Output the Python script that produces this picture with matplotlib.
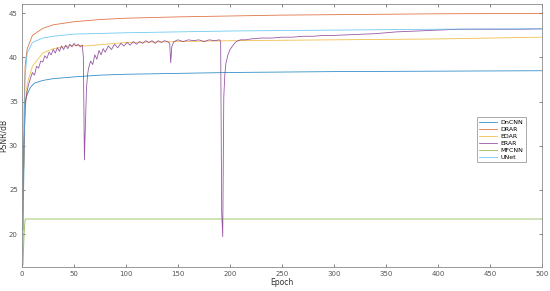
import numpy as np
import matplotlib
matplotlib.use("Agg")
import matplotlib.pyplot as plt

# epochs / PSNR values
dncnn_ep = [1, 2, 3, 5, 8, 12, 20, 30, 50, 75, 100, 150, 200, 300, 400, 500]
dncnn_val = [20.5, 30, 35, 35.8, 36.6, 37.1, 37.4, 37.6, 37.8, 38.0, 38.1, 38.2, 38.3, 38.4, 38.45, 38.5]

drar_ep = [1, 2, 3, 5, 10, 20, 30, 50, 75, 100, 150, 200, 250, 300, 350, 400, 450, 500]
drar_val = [22.5, 34, 39, 41, 42.5, 43.3, 43.7, 44.05, 44.3, 44.45, 44.6, 44.7, 44.8, 44.85, 44.9, 44.95, 44.97, 45.0]

edar_ep = [1, 2, 3, 5, 10, 20, 30, 40, 50, 60, 80, 100, 150, 200, 250, 300, 400, 500]
edar_val = [26, 28, 34, 37, 39, 40.5, 41.0, 41.2, 41.4, 41.3, 41.5, 41.7, 41.8, 41.9, 41.95, 42.0, 42.1, 42.3]

erar_ep = [1, 2, 3, 4, 5, 6, 8, 10, 12, 14, 16, 18, 20, 22, 24, 26, 28, 30,
           32, 34, 36, 38, 40, 42, 44, 46, 48, 50, 52, 54, 56, 58, 59, 60,
           61, 62, 63, 64, 66, 68, 70, 72, 74, 76, 78, 80, 83, 86, 89, 92,
           95, 98, 101, 104, 107, 110, 113, 116, 119, 122, 125, 128, 131, 134, 137, 140,
           142, 143, 144, 146, 150, 155, 160, 165, 170, 175, 180, 185, 190, 191,
           192, 193, 194, 195, 196, 198, 200, 203, 206, 210, 215, 220, 230, 240,
           250, 260, 270, 280, 290, 300, 320, 340, 360, 380, 400, 420, 440, 460,
           480, 500]
erar_val = [24, 30, 34.5, 35.5, 36.2, 36.8, 37.6, 38.3, 38.0, 39.0, 38.8, 39.6, 39.5, 40.2, 39.9, 40.6, 40.3, 40.9,
            40.5, 41.1, 40.7, 41.3, 40.9, 41.4, 41.0, 41.5, 41.2, 41.6, 41.3, 41.5, 41.2, 41.4, 40.0, 28.4,
            32.5, 36.5, 38.0, 38.8, 39.6, 39.2, 40.3, 39.8, 40.8, 40.3, 41.0, 40.6, 41.3, 40.9, 41.5, 41.1,
            41.6, 41.3, 41.7, 41.4, 41.8, 41.5, 41.8, 41.6, 41.9, 41.7, 41.9, 41.6, 41.9, 41.7, 41.9, 41.8,
            41.6, 39.4, 41.2, 41.8, 42.0, 41.8, 42.0, 41.9, 42.0, 41.8, 42.0, 41.9, 42.0, 41.8,
            22.4, 19.7, 35.5, 38.0, 39.3, 40.3, 40.9, 41.4, 41.8, 42.0, 42.0, 42.1, 42.2, 42.2,
            42.3, 42.3, 42.4, 42.4, 42.5, 42.5, 42.6, 42.7, 42.9, 43.0, 43.1, 43.2, 43.2, 43.2,
            43.2, 43.25]

mfcnn_ep = [1, 2, 3, 500]
mfcnn_val = [16.5, 20, 21.7, 21.7]

unet_ep = [1, 2, 3, 5, 10, 20, 30, 50, 100, 150, 200, 300, 400, 500]
unet_val = [18, 30, 38, 40.5, 41.7, 42.2, 42.4, 42.65, 42.8, 42.9, 43.0, 43.1, 43.2, 43.25]

names = ["DnCNN", "DRAR", "EDAR", "ERAR", "MFCNN", "UNet"]
colors = ["#0072BD", "#D95319", "#EDB120", "#7E2F8E", "#77AC30", "#4DBEEE"]
series = [(dncnn_ep, dncnn_val), (drar_ep, drar_val), (edar_ep, edar_val),
          (erar_ep, erar_val), (mfcnn_ep, mfcnn_val), (unet_ep, unet_val)]

fig = plt.figure(figsize=(5.5, 2.91), dpi=100)
ax = fig.add_axes([0.04, 0.0835, 0.9455, 0.9025])

for (ep, val), name, c in zip(series, names, colors):
    ax.plot(ep, val, color=c, lw=0.6, alpha=0.8, label=name)

ax.set_xlim(0, 500)
ax.set_ylim(16.3, 46.05)
ax.set_xticks(np.arange(0, 501, 50))
ax.set_yticks(np.arange(20, 46, 5))
ax.tick_params(direction="in", length=2.5, width=0.5, labelsize=5,
               colors="#555555", top=True, right=True, pad=3)
for s in ax.spines.values():
    s.set_linewidth(0.6)
    s.set_color("#888888")
ax.set_xlabel("Epoch", fontsize=5.5, color="#333333", labelpad=1)
ax.set_ylabel("PSNR/dB", fontsize=5.5, color="#333333")
ax.yaxis.set_label_coords(-0.027, 0.5)

leg = ax.legend(loc="upper right", bbox_to_anchor=(0.975, 0.581), fontsize=4.5,
                handlelength=2.8, handletextpad=0.6, borderpad=0.4,
                labelspacing=0.25, fancybox=False, framealpha=1)
leg.get_frame().set_edgecolor("#888888")
leg.get_frame().set_linewidth(0.5)

fig.savefig("out.png", dpi=100)
